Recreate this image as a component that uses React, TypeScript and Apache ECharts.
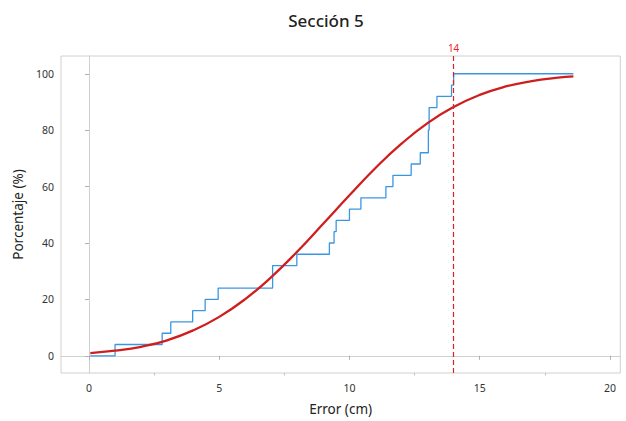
import React, { useEffect, useRef } from "react";
import * as echarts from "echarts";

// Sorted observed errors (cm), n = 25
const errors: number[] = [
  1.0, 2.81, 3.14, 3.98, 4.46, 4.96, 7.05, 7.05, 7.98, 9.23, 9.41, 9.49, 10.0,
  10.44, 11.4, 11.67, 12.37, 12.72, 13.03, 13.03, 13.06, 13.06, 13.36, 13.92, 14.0,
];
const ecdfStart: number = 0.05;
const ecdfEnd: number = 18.6;

// Fitted (normal) cumulative curve
const fitX: number[] = [0.05, 1, 2, 3, 4, 5, 6, 7, 8, 9, 10, 11, 12, 13, 14, 15, 16, 17, 18, 18.6];
const fitY: number[] = [0.95, 1.8, 3.2, 5.5, 9.0, 13.8, 20.1, 27.9, 37.0, 46.9, 56.9, 66.6, 75.2, 82.5, 88.2, 92.5, 95.5, 97.4, 98.6, 99.1];

const xTicks: number[] = [0, 5, 10, 15, 20];
const xMinorTicks: number[] = [2.5, 7.5, 12.5, 17.5];
const yTicks: number[] = [0, 20, 40, 60, 80, 100];
const refLine: number = 14;

const FONT = "'Noto Sans', 'Open Sans', sans-serif";

export default function App() {
  const ref = useRef<HTMLDivElement>(null);
  useEffect(() => {
    if (!ref.current) return;
    const chart = echarts.init(ref.current, undefined, { renderer: "svg" });
    const n = errors.length;
    const ecdf: [number, number][] = [[ecdfStart, 0]];
    errors.forEach((e, i) => {
      const pct = ((i + 1) / n) * 100;
      const next = errors[i + 1];
      if (next !== e) ecdf.push([e, pct]);
    });
    ecdf.push([ecdfEnd, 100]);
    const fit = fitX.map((x, i) => [x, fitY[i]]);

    const xBase = { type: "value", min: -1.075, max: 20.4, splitLine: { show: false } };
    chart.setOption({
      animation: false,
      textStyle: { fontFamily: FONT },
      title: {
        text: "Sección 5",
        left: 321,
        top: 7,
        textAlign: "center",
        textStyle: { fontFamily: FONT, fontSize: 17, fontWeight: 500, color: "#222" },
      },
      grid: {
        left: 61,
        right: 5.7,
        top: 56,
        bottom: 47.7,
        show: true,
        borderColor: "#d0d0d0",
        borderWidth: 1,
        containLabel: false,
      },
      xAxis: [
        {
          ...xBase,
          name: "Error (cm)",
          nameLocation: "middle",
          nameGap: 29,
          nameTextStyle: { fontFamily: FONT, fontSize: 13.5, color: "#222" },
          axisLine: { show: true, lineStyle: { color: "#d0d0d0" } },
          axisTick: { show: true, length: 4, customValues: xTicks, lineStyle: { color: "#b0b0b0" } },
          axisLabel: { customValues: xTicks, fontSize: 10.5, color: "#333", margin: 9, fontFamily: FONT },
        },
        {
          ...xBase,
          position: "bottom",
          axisLine: { show: false },
          axisTick: { show: true, length: 2.5, customValues: xMinorTicks, lineStyle: { color: "#c0c0c0" } },
          axisLabel: { show: false },
        },
      ],
      yAxis: {
        type: "value",
        min: -6.1,
        max: 106.3,
        name: "Porcentaje (%)",
        nameLocation: "middle",
        nameGap: 33,
        nameTextStyle: { fontFamily: FONT, fontSize: 13.5, color: "#222" },
        splitLine: { show: false },
        axisLine: { show: true, lineStyle: { color: "#d0d0d0" } },
        axisTick: { show: true, length: 4, customValues: yTicks, lineStyle: { color: "#b0b0b0" } },
        axisLabel: { customValues: yTicks, fontSize: 10.5, color: "#333", margin: 7, fontFamily: FONT },
      },
      series: [
        {
          type: "line",
          data: ecdf,
          step: "end",
          symbol: "none",
          lineStyle: { color: "#3a96e2", width: 1.3 },
          z: 2,
          markLine: {
            silent: true,
            symbol: "none",
            data: [{ xAxis: refLine }],
            lineStyle: { color: "#d7262b", type: [5, 3], width: 1.2 },
            label: {
              show: true,
              position: "end",
              formatter: String(refLine),
              color: "#e8252b",
              fontSize: 10,
              distance: 3,
              fontFamily: FONT,
            },
          },
        },
        {
          type: "line",
          data: fit,
          smooth: true,
          symbol: "none",
          lineStyle: { color: "#cf1e1e", width: 2.3 },
          z: 3,
        },
      ],
    });
    return () => chart.dispose();
  }, []);
  return (
    <div
      ref={ref}
      style={{ position: "fixed", left: 0, top: 0, width: 626, height: 421, background: "#fff" }}
    />
  );
}
